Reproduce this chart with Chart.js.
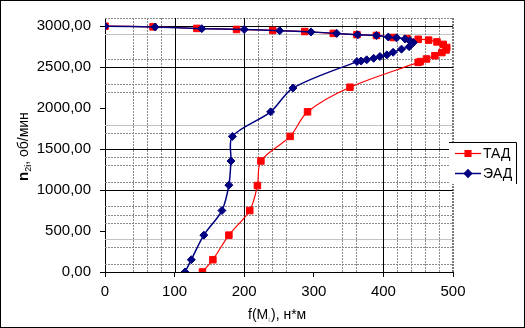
<!DOCTYPE html>
<html>
<head>
<meta charset="utf-8">
<script src="https://cdn.jsdelivr.net/npm/chart.js@4"></script>
<style>
html, body { margin: 0; padding: 0; background: #fff; overflow: hidden; }
#wrap { position: relative; width: 525px; height: 328px; }
</style>
</head>
<body>
<div id="wrap"><canvas id="torqueChart"></canvas></div>
<script>
// ТАД: torque f(M) and speed n2
var tadTorque = [0, 69, 132, 189, 241, 287, 328, 362, 390, 414, 434, 450, 465, 477, 486, 491, 490, 484, 474, 462, 453, 450, 352, 291, 266, 224, 219, 208, 178, 155, 140];
var tadSpeed  = [3000, 2992, 2973, 2960, 2948, 2935, 2912, 2897, 2887, 2862, 2848, 2840, 2830, 2808, 2778, 2740, 2710, 2678, 2640, 2600, 2568, 2558, 2255, 1955, 1655, 1355, 1055, 750, 450, 150, 0];

// ЭАД
var eadTorque = [0, 72, 139, 200, 251, 296, 333, 363, 390, 407, 419, 431, 438, 443, 437, 426, 414, 405, 395, 386, 376, 368, 362, 270, 238, 183, 181, 178, 168, 142, 124, 115];
var eadSpeed  = [3000, 2990, 2970, 2960, 2945, 2930, 2912, 2895, 2886, 2868, 2858, 2845, 2822, 2800, 2750, 2720, 2682, 2650, 2630, 2608, 2590, 2575, 2568, 2245, 1955, 1655, 1355, 1060, 750, 450, 150, 0];

var seriesNames = ['ТАД', 'ЭАД'];
var xTickValues = [0, 100, 200, 300, 400, 500];
var yTickValues = [0, 500, 1000, 1500, 2000, 2500, 3000];

// grid lines as they show in the picture (irregular)
var xGridMajor = [100, 200, 400];
var xGridMinor = [40, 60, 80, 220, 240, 260, 340, 360, 420, 440, 460, 480];
var yGridMajor = [1000, 1500, 2500, 3000];
var yGridMinor = [100, 300, 600, 700, 800, 1100, 1300, 1400, 1700, 2200, 2300, 2600];
var yGridLight = [400, 1800, 2900];

function toPoints(xs, ys) {
    return xs.map((x, i) => ({ x: x, y: ys[i] }));
}

Chart.defaults.font.family = '"Liberation Sans", Arial, sans-serif';
Chart.defaults.color = '#000';

var gridPlugin = {
    id: 'oddGrid',
    beforeDatasetsDraw(chart) {
        var ctx = chart.ctx, a = chart.chartArea;
        var xs = chart.scales.x, ys = chart.scales.y;
        function vline(v, color, width, dash) {
            var px = Math.round(xs.getPixelForValue(v)) + (width % 2 ? 0.5 : 0);
            ctx.beginPath();
            ctx.strokeStyle = color; ctx.lineWidth = width; ctx.setLineDash(dash);
            ctx.moveTo(px, a.top); ctx.lineTo(px, a.bottom); ctx.stroke();
        }
        function hline(v, color, width, dash) {
            var py = Math.round(ys.getPixelForValue(v)) + (width % 2 ? 0.5 : 0);
            ctx.beginPath();
            ctx.strokeStyle = color; ctx.lineWidth = width; ctx.setLineDash(dash);
            ctx.moveTo(a.left, py); ctx.lineTo(a.right, py); ctx.stroke();
        }
        ctx.save();
        yGridLight.forEach(v => hline(v, '#c4c4c4', 1, []));
        yGridMinor.forEach(v => hline(v, '#8c8c8c', 1, [2, 1]));
        xGridMinor.forEach(v => vline(v, '#8c8c8c', 1, [2, 1]));
        hline(ys.max, '#8c8c8c', 1, [2, 1]);
        vline(xs.max, '#7a7a7a', 2, [2, 1]);
        yGridMajor.forEach(v => hline(v, '#000', 1, []));
        xGridMajor.forEach(v => vline(v, '#000', 1, []));
        ctx.restore();
    },
    afterDraw(chart) {
        var ctx = chart.ctx;
        ctx.save();
        ctx.fillStyle = '#000';
        ctx.textBaseline = 'alphabetic';

        // x title: f(Mi), н*м
        var x = 248, y = 319;
        ctx.font = '14px "Liberation Sans", Arial, sans-serif';
        ctx.fillText('f(M', x, y); x += ctx.measureText('f(M').width;
        ctx.font = '8px "Liberation Sans", Arial, sans-serif';
        ctx.fillStyle = '#888';
        ctx.fillText('i', x, y + 3); x += ctx.measureText('i').width + 1;
        ctx.fillStyle = '#000';
        ctx.font = '14px "Liberation Sans", Arial, sans-serif';
        ctx.fillText('), н*м', x, y);

        // y title: n2i, об/мин
        ctx.translate(28, 181);
        ctx.rotate(-Math.PI / 2);
        var t = 0;
        ctx.font = 'bold 15px "Liberation Sans", Arial, sans-serif';
        ctx.fillText('n', t, 0); t += ctx.measureText('n').width;
        ctx.font = '9px "Liberation Sans", Arial, sans-serif';
        ctx.fillText('2i', t, 3); t += ctx.measureText('2i').width;
        ctx.font = '14px "Liberation Sans", Arial, sans-serif';
        ctx.fillText(', об/мин', t, 0);
        ctx.setTransform(1, 0, 0, 1, 0, 0);

        // legend box
        ctx.fillStyle = '#fff';
        ctx.fillRect(449, 142, 67, 42);
        ctx.strokeStyle = '#000'; ctx.lineWidth = 1;
        ctx.beginPath();
        ctx.moveTo(449, 142.5); ctx.lineTo(516.5, 142.5); ctx.lineTo(516.5, 184);
        ctx.stroke();
        var ds = chart.data.datasets;
        var rows = [{ d: ds[1], y: 153 }, { d: ds[0], y: 173 }];
        rows.forEach(r => {
            ctx.beginPath();
            ctx.strokeStyle = r.d.borderColor; ctx.lineWidth = r.d.borderWidth;
            ctx.moveTo(455, r.y + 0.5); ctx.lineTo(481, r.y + 0.5); ctx.stroke();
            Chart.helpers.drawPoint(ctx, {
                pointStyle: r.d.pointStyle, radius: r.d.pointRadius * 0.9,
                borderWidth: 1, rotation: 0
            }, 468, r.y + 0.5);
            ctx.fillStyle = r.d.pointBackgroundColor; ctx.fill();
            ctx.fillStyle = '#000';
            ctx.font = '14px "Liberation Sans", Arial, sans-serif';
            ctx.textBaseline = 'middle';
            ctx.fillText(r.d.label, 483, r.y + 1);
        });

        // outer frame
        ctx.strokeStyle = '#000'; ctx.lineWidth = 1;
        ctx.strokeRect(0.5, 0.5, chart.width - 1, chart.height - 1);
        ctx.restore();
    }
};

var ctx = document.getElementById('torqueChart').getContext('2d');
var torqueChart = new Chart(ctx, {
    type: 'scatter',
    data: {
        datasets: [{
            label: seriesNames[1],
            data: toPoints(eadTorque, eadSpeed),
            showLine: true,
            borderColor: '#000080',
            backgroundColor: '#000080',
            pointBackgroundColor: '#000080',
            pointBorderColor: '#000080',
            borderWidth: 1.5,
            pointStyle: 'rectRot',
            pointRadius: 4,
            pointBorderWidth: 1,
            tension: 0.3
        }, {
            label: seriesNames[0],
            data: toPoints(tadTorque, tadSpeed),
            showLine: true,
            borderColor: '#ff0000',
            backgroundColor: '#ff0000',
            pointBackgroundColor: '#ff0000',
            pointBorderColor: '#ff0000',
            borderWidth: 1.2,
            pointStyle: 'rect',
            pointRadius: 4.6,
            pointBorderWidth: 1,
            tension: 0.3
        }]
    },
    options: {
        responsive: true,
        maintainAspectRatio: false,
        animation: false,
        layout: { padding: { top: 14, right: 72, left: 0, bottom: 0 } },
        plugins: { legend: { display: false }, tooltip: { enabled: false } },
        scales: {
            x: {
                type: 'linear',
                min: 0, max: 500,
                afterFit: s => { s.height = 56; },
                afterBuildTicks: s => { s.ticks = xTickValues.map(v => ({ value: v })); },
                ticks: { padding: 6, font: { size: 15 } },
                grid: {
                    drawOnChartArea: false, color: 'transparent',
                    tickLength: 5, tickColor: '#000'
                },
                border: { color: '#000', width: 1 }
            },
            y: {
                type: 'linear',
                min: 0, max: 3100,
                afterFit: s => { s.width = 105; },
                afterBuildTicks: s => { s.ticks = yTickValues.map(v => ({ value: v })); },
                ticks: {
                    padding: 9, font: { size: 15 },
                    callback: v => v.toFixed(2).replace('.', ',')
                },
                grid: {
                    drawOnChartArea: false, color: 'transparent',
                    tickLength: 5, tickColor: '#000'
                },
                border: { color: '#000', width: 1 }
            }
        }
    },
    plugins: [gridPlugin]
});
</script>
</body>
</html>
